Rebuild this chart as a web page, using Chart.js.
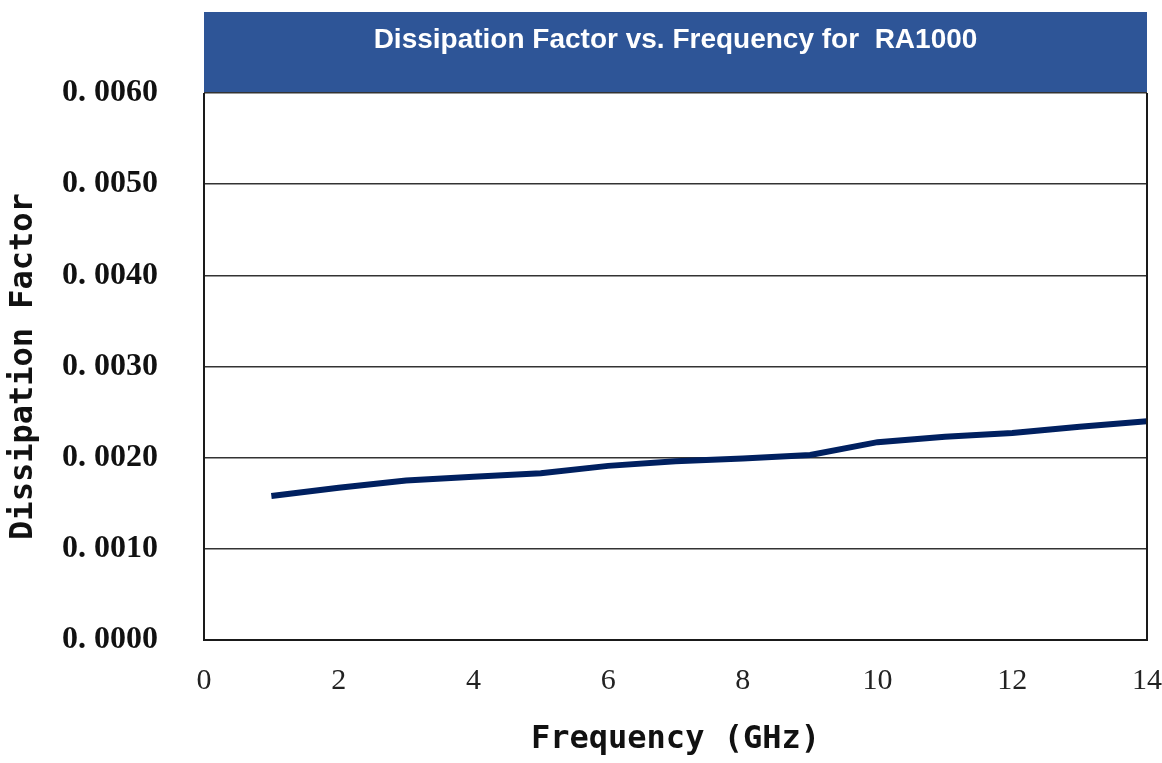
<!DOCTYPE html>
<html>
<head>
<meta charset="utf-8">
<script src="https://cdn.jsdelivr.net/npm/chart.js@4"></script>
<style>
  html, body { margin: 0; padding: 0; background: #fff; }
  #wrap { width: 1162px; height: 763px; position: relative; }
</style>
</head>
<body>
<div id="wrap"><canvas id="grafica"></canvas></div>
<script>
// --- Datos ---
const frecuencias = [1, 2, 3, 4, 5, 6, 7, 8, 9, 10, 11, 12, 13, 14];
const factorDisipacion = [0.00158, 0.00167, 0.00175, 0.00179, 0.00183, 0.00191, 0.00196,
  0.00199, 0.00203, 0.00217, 0.00223, 0.00227, 0.00234, 0.00240];
const yTicks = [0, 0.001, 0.002, 0.003, 0.004, 0.005, 0.006];
const xTicks = [0, 2, 4, 6, 8, 10, 12, 14];
const titulo = 'Dissipation Factor vs. Frequency for  RA1000';

// --- Banner del titulo y borde del area ---
const bannerPlugin = {
  id: 'banner',
  beforeDraw(chart) {
    const { ctx, chartArea: a } = chart;
    ctx.save();
    ctx.fillStyle = '#2E5597';
    ctx.fillRect(a.left, 12, a.right - a.left, a.top - 12);
    ctx.fillStyle = '#ffffff';
    ctx.font = 'bold 28px "Liberation Sans", Arial, sans-serif';
    ctx.textAlign = 'center';
    ctx.textBaseline = 'middle';
    ctx.fillText(titulo, (a.left + a.right) / 2, 40);
    ctx.restore();
  },
  afterDatasetsDraw(chart) {
    const { ctx, chartArea: a } = chart;
    ctx.save();
    ctx.strokeStyle = '#1a1a1a';
    ctx.lineWidth = 2;
    ctx.beginPath();
    ctx.moveTo(a.left, a.top);
    ctx.lineTo(a.left, a.bottom);
    ctx.lineTo(a.right, a.bottom);
    ctx.lineTo(a.right, a.top);
    ctx.stroke();
    ctx.restore();
  }
};

new Chart(document.getElementById('grafica'), {
  type: 'line',
  data: {
    datasets: [{
      data: frecuencias.map((f, i) => ({ x: f, y: factorDisipacion[i] })),
      borderColor: '#002060',
      borderWidth: 6,
      pointRadius: 0,
      tension: 0,
      fill: false
    }]
  },
  options: {
    responsive: true,
    maintainAspectRatio: false,
    animation: false,
    layout: { padding: { top: 93, right: 15, left: 0, bottom: 0 } },
    plugins: { legend: { display: false }, tooltip: { enabled: false } },
    scales: {
      x: {
        type: 'linear',
        min: 0, max: 14,
        afterBuildTicks: s => { s.ticks = xTicks.map(v => ({ value: v })); },
        afterFit: s => { s.height = 123; s.paddingLeft = 0; s.paddingRight = 0; },
        grid: { display: false, drawTicks: false },
        border: { display: false },
        ticks: {
          padding: 23,
          color: '#222',
          font: { family: '"Liberation Serif", "DejaVu Serif", serif', size: 30 }
        },
        title: {
          display: true,
          text: 'Frequency (GHz)',
          color: '#111',
          padding: { top: 22 },
          font: { family: '"DejaVu Sans Mono", monospace', size: 32, weight: 'bold' }
        }
      },
      y: {
        min: 0, max: 0.006,
        afterBuildTicks: s => { s.ticks = yTicks.map(v => ({ value: v })); },
        afterFit: s => { s.width = 204; s.paddingTop = 0; s.paddingBottom = 0; },
        grid: { color: '#333', lineWidth: 1.5, drawTicks: false },
        border: { display: false },
        ticks: {
          padding: 46,
          color: '#111',
          font: { family: '"Liberation Serif", "DejaVu Serif", serif', size: 32, weight: 'bold' },
          callback: v => v.toFixed(4).replace('.', '. ')
        },
        title: {
          display: true,
          text: 'Dissipation Factor',
          color: '#111',
          padding: { bottom: 8 },
          font: { family: '"DejaVu Sans Mono", monospace', size: 32, weight: 'bold' }
        }
      }
    }
  },
  plugins: [bannerPlugin]
});
</script>
</body>
</html>
